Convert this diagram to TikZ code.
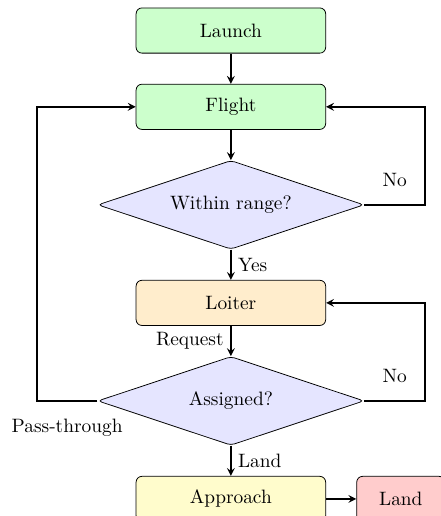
\documentclass[tikz,border=0pt]{standalone}
\usetikzlibrary{positioning,shapes.geometric}
\definecolor{loiterfarbe}{RGB}{255,237,204}
\begin{document}
\begin{tikzpicture}[
    node distance=0.55cm,
    box/.style={draw, rounded corners=3pt, minimum width=3.44cm, minimum height=0.82cm},
    frage/.style={draw, diamond, aspect=3, rounded corners=2pt, fill=blue!10,
      minimum width=4.83cm, minimum height=1.61cm},
    pfeil/.style={thick, ->, >=stealth}
  ]
    \useasboundingbox (-4.19,0.554) rectangle (3.81,-8.81);

    % Zustaende
    \node[box, fill=green!20] (launch) {Launch};
    \node[box, fill=green!20, below=of launch] (flight) {Flight};
    \node[frage, below=of flight] (range) {Within range?};
    \node[box, fill=loiterfarbe, below=of range] (loiter) {Loiter};
    \node[frage, below=of loiter] (assigned) {Assigned?};
    \node[box, fill=yellow!20, below=of assigned] (approach) {Approach};
    \node[box, fill=red!20, minimum width=1.6cm, right=of approach] (land) {Land};

    % Uebergaenge
    \draw[pfeil] (launch) -- (flight);
    \draw[pfeil] (flight) -- (range);
    \draw[pfeil] (range) -- node[right] (yes) {Yes} (loiter);
    \draw[pfeil] (loiter) -- node[left] (request) {Request} (assigned);
    \draw[pfeil] (assigned) -- node[right] (landing) {Land} (approach);
    \draw[pfeil] (approach) -- (land);

    % Schleifen
    \draw[pfeil] (range.east) -- ++(1.1,0) |- node[pos=0.125, left=2mm] (no1) {No} (flight.east);
    \draw[pfeil] (assigned.east) -- ++(1.1,0) |- node[pos=0.125, left=2mm] (no2) {No} (loiter.east);
    \draw[pfeil] (assigned.west) -- node[below=2mm] (pass) {Pass-through} ++(-1.1,0) |- (flight.west);

  \end{tikzpicture}
\end{document}
